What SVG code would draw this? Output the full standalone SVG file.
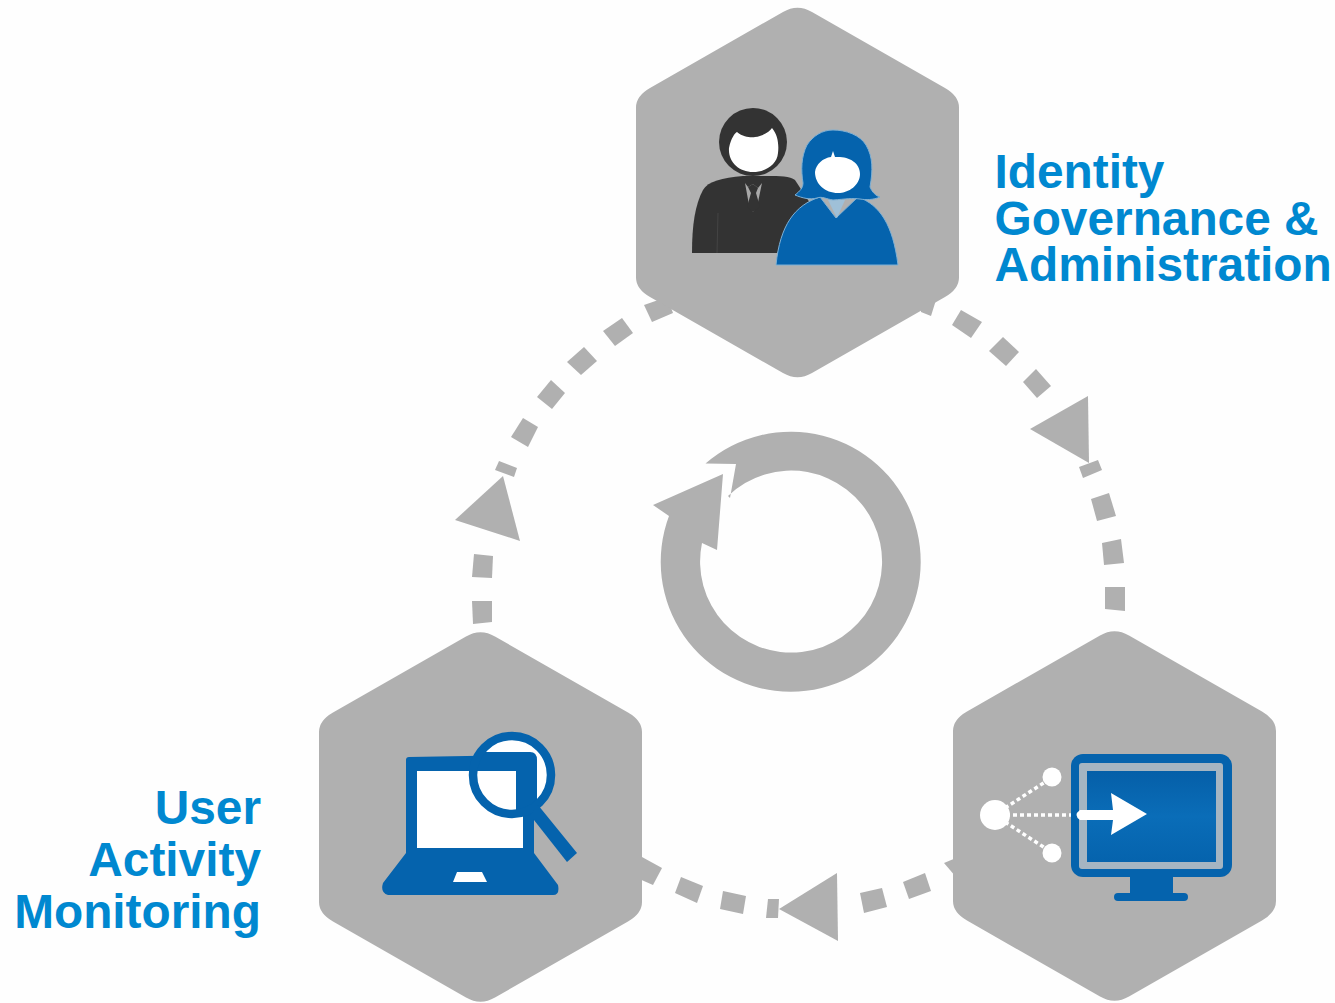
<svg xmlns="http://www.w3.org/2000/svg" width="1335" height="1003" viewBox="0 0 1335 1003">
<style>
.g{fill:#b0b0b0}
.b{fill:#0563ad}
.w{fill:#fff}
.t{font-family:"Liberation Sans",Arial,sans-serif;font-weight:700;font-size:47.8px;fill:#0088d0}
.d{stroke:#fff;stroke-width:3.5;stroke-dasharray:4 3;fill:none}
</style>
<defs>
<path id="hex" d="M-14.5 -180.5Q0 -189 14.5 -180.5L147.5 -104.5Q161.5 -96.5 161.5 -85L161.5 85Q161.5 96.5 147.5 104.5L14.5 180.5Q0 189 -14.5 180.5L-147.5 104.5Q-161.5 96.5 -161.5 85L-161.5 -85Q-161.5 -96.5 -147.5 -104.5Z"/>
<clipPath id="lens"><circle cx="512" cy="775" r="38"/></clipPath>
<linearGradient id="scr" x1="0" y1="0" x2="0" y2="1"><stop offset="0" stop-color="#055fa8"/><stop offset="0.5" stop-color="#0a6db8"/><stop offset="1" stop-color="#0563ad"/></linearGradient>
</defs>
<rect width="1335" height="1003" fill="#fefefe"/>
<g id="connectors" class="g">
<polygon points="961,310 982,322 971,338 952,325"/>
<polygon points="1003,337 1019,352 1006,366 989,351"/>
<polygon points="1036,369 1051,386 1037,398 1023,382"/>
<polygon points="1088,396 1030,429 1089,463"/>
<polygon points="1098,460 1102,470 1083,478 1079,467"/>
<polygon points="1109,493 1116,516 1097,521 1091,499"/>
<polygon points="1121,539 1124,563 1104,565 1102,543"/>
<polygon points="1125,587 1125,611 1105,609 1105,587"/>
<polygon points="644,305 667,297 673,313 652,322"/>
<polygon points="622,318 633,333 615,346 603,331"/>
<polygon points="584,347 597,361 581,375 567,362"/>
<polygon points="551,380 565,393 552,409 537,397"/>
<polygon points="523,418 538,427 528,447 511,437"/>
<polygon points="499,461 517,468 514,477 495,470"/>
<polygon points="503,476 455,520 520,541"/>
<polygon points="474,554 493,556 492,578 472,577"/>
<polygon points="472,601 492,601 492,622 473,624"/>
<polygon points="642,857 662,868 653,885 637,878"/>
<polygon points="681,877 703,886 697,903 675,893"/>
<polygon points="723,891 746,896 743,914 720,909"/>
<polygon points="768,899 779,899 778,918 766,918"/>
<polygon points="779,909 837,873 838,941"/>
<polygon points="860,893 882,888 887,907 864,913"/>
<polygon points="903,882 925,873 931,891 909,899"/>
<polygon points="944,863 956,858 956,877"/>
<polygon points="920,300 936,300 931,316 921,312"/>
</g>
<g id="cycle-arrow">
<path class="g" d="M705.5 463.5L736 464L730 498L728 496A91 91 0 1 1 702 543L717 550L723 474L653 505L669 516A130 130 0 1 0 705.5 463.5Z"/>
</g>
<g id="node-identity">
<use href="#hex" x="797.5" y="192.5" class="g"/>
<circle cx="753" cy="142" r="34" fill="#333"/>
<path class="w" d="M729 148C731 138 735 133 737 132C745 139 755 137 755 137C764 136 770 131 772 128C778 135 779 145 778 153C777 165 765 172 753 172C739 172 728 162 729 148Z"/>
<path fill="#333" d="M692 253C692 225 695 205 703 190C708 181 722 178 743 176L767 176C780 176 790 176 795 180L810 203L777 253Z"/>
<polygon fill="#a8a8a8" points="745,183 749,205 753,212 757,207 762,183 758,188 753,184 748,187"/>
<polygon fill="#333" points="748,187 753,184 758,188 756,193 760,207 753,212 747,207 751,193"/>
<path d="M718 213L717 253" stroke="#444" stroke-width="1" fill="none"/>
<path class="b" stroke="#7fb0d4" stroke-width="1" d="M776 265C780 225 795 205 820 197L836 218L858 197C880 205 893 225 898 265Z"/>
<polygon fill="#9fc0d8" points="828,200 837,218 845,200"/>
<path class="b" stroke="#7fb0d4" stroke-width="1" d="M833 130C846 130 860 135 866 145C873 157 873 170 870 187C872 192 876 196 880 197C873 200 866 200 860 199C852 198 846 199 833 200C826 199 822 196 817 198C810 200 802 198 795 195C800 191 803 188 803 183C801 170 801 157 807 145C813 136 822 130 833 130Z"/>
<path class="w" d="M815 172C816 164 823 158 831 157L833 151L835 157C848 156 860 162 860 174C860 185 849 193 838 193C825 193 815 184 815 172Z"/>
<text class="t" x="994.5" y="188">Identity</text>
<text class="t" x="994.5" y="235">Governance &amp;</text>
<text class="t" x="994.5" y="281">Administration</text>
</g>
<g id="node-monitoring">
<use href="#hex" x="480.5" y="817" class="g"/>
<path class="b" d="M406 760Q406 757 409 757L530 755Q534 755 534 760L534 853L558 885Q560 895 553 895L388 895Q380 893 383 883L406 853Z"/>
<rect class="w" x="417" y="771" width="106" height="77"/>
<polygon class="w" points="457,872 482,872 487,882 453,882"/>
<g clip-path="url(#lens)">
<rect class="w" x="470" y="735" width="85" height="80"/>
<path class="b" d="M465 752L530 752Q537 752 537 760L537 830L465 830Z"/>
<rect class="w" x="465" y="771" width="51" height="50"/>
</g>
<circle cx="512" cy="775" r="39" fill="none" stroke="#0563ad" stroke-width="8.5"/>
<polygon class="b" points="538,805 577,853 567,862 530,815"/>
<text class="t" x="261" y="824" text-anchor="end">User</text>
<text class="t" x="261" y="876" text-anchor="end">Activity</text>
<text class="t" x="261" y="928" text-anchor="end">Monitoring</text>
</g>
<g id="node-enforcement">
<use href="#hex" x="1114.5" y="816" class="g"/>
<path class="d" d="M1005 808L1045 782M1006 815L1076 815M1005 822L1045 848"/>
<circle class="w" cx="995" cy="815" r="15"/>
<circle class="w" cx="1052" cy="777" r="9.5"/>
<circle class="w" cx="1052" cy="853" r="9.5"/>
<rect class="b" x="1071" y="754" width="161" height="123" rx="12"/>
<rect x="1079" y="763" width="144" height="106" rx="3" fill="#a5b5c2"/>
<rect x="1087" y="771" width="129" height="91" fill="url(#scr)"/>
<rect class="b" x="1130" y="877" width="43" height="18"/>
<rect class="b" x="1114" y="893" width="74" height="8" rx="4"/>
<path class="w" d="M1080 810L1113 810L1111 793L1147 814L1111 835L1113 820L1080 820Q1073 815 1080 810Z"/>
</g>
</svg>
